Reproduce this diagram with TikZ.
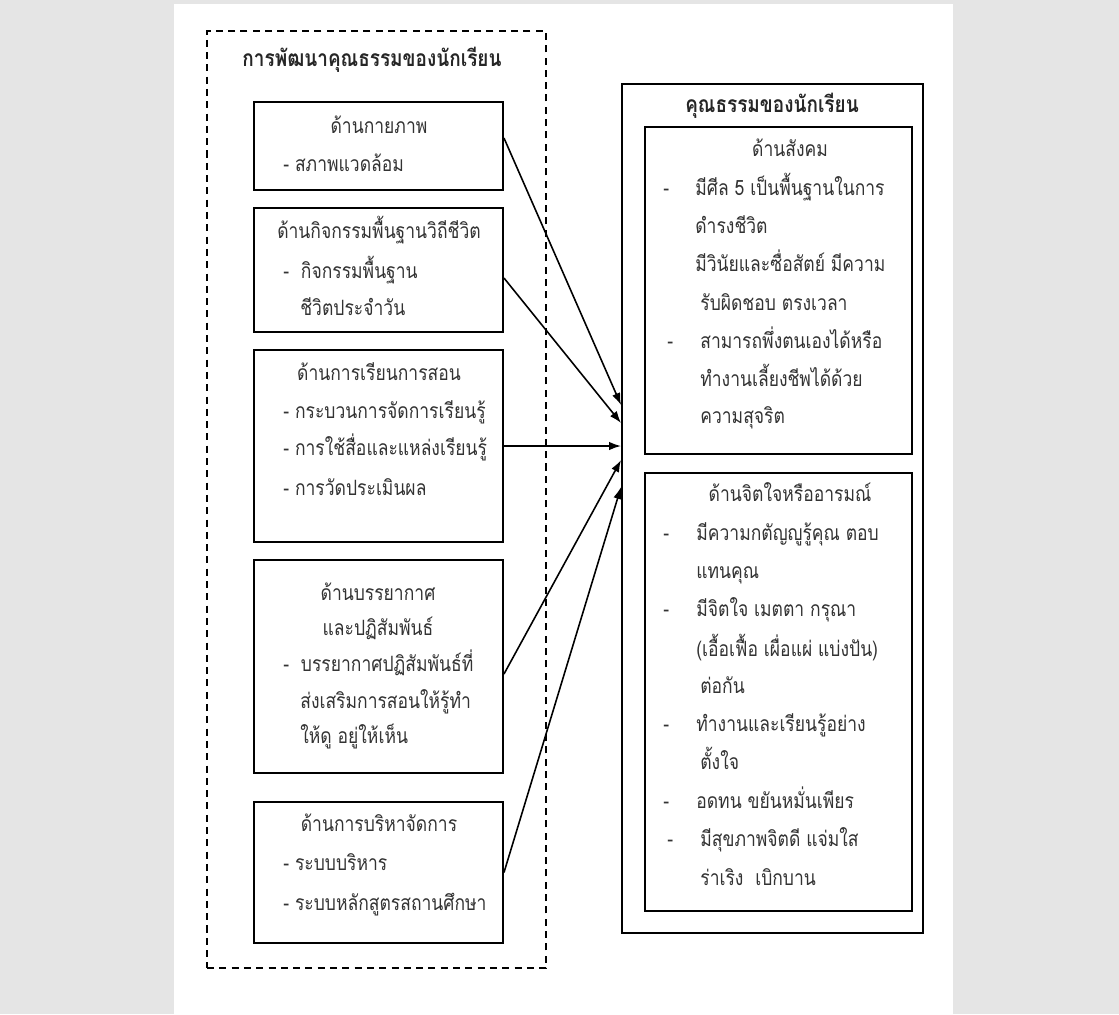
\documentclass[tikz,border=0pt]{standalone}
\usepackage{fontspec}
\newfontfamily\thaifont[Script=Thai,FakeStretch=0.83]{Loma}
\usetikzlibrary{arrows.meta,fit,calc}

\tikzset{
  box/.style={draw, line width=1.1pt, inner sep=0pt},
  frame/.style={draw, line width=1.1pt, dash pattern=on 4pt off 3pt, inner sep=0pt},
  txt/.style={inner sep=0pt, text height=1ex, text depth=0pt, text=black!80,
    font=\thaifont\fontsize{12}{14}\selectfont},
  head/.style={txt, anchor=center},
  line/.style={txt, anchor=west},
  title/.style={txt, anchor=center, text=black!85,
    font=\thaifont\bfseries\fontsize{13}{15}\selectfont},
  link/.style={-{Latex[length=2.4mm,width=1.7mm]}, line width=0.9pt}
}

\begin{document}
\begin{tikzpicture}[x=0.2mm, y=-0.2mm]

  % page
  \fill[gray!20] (0,0) rectangle (1119,1014);
  \fill[white] (174,4) rectangle (953,1014);
  \useasboundingbox (0,0) rectangle (1119,1014);

  % left: development
  \node[frame, fit={(207,31) (546,968)}] (lframe) {};
  \node[title] (ltitle) at (372,63) {การพัฒนาคุณธรรมของนักเรียน};

  \node[box, fit={(254,102) (503,190)}] (b1) {};
  \node[head] (b1h) at (379,130) {ด้านกายภาพ};
  \node[line] (b1a) at (283,168) {- สภาพแวดล้อม};

  \node[box, fit={(254,208) (503,332)}] (b2) {};
  \node[head] (b2h) at (379,235) {ด้านกิจกรรมพื้นฐานวิถีชีวิต};
  \node[line] (b2a) at (283,275) {-~ กิจกรรมพื้นฐาน};
  \node[line] (b2b) at (300,312) {ชีวิตประจำวัน};

  \node[box, fit={(254,350) (503,542)}] (b3) {};
  \node[head] (b3h) at (379,377) {ด้านการเรียนการสอน};
  \node[line] (b3a) at (283,415) {- กระบวนการจัดการเรียนรู้};
  \node[line] (b3b) at (283,452) {- การใช้สื่อและแหล่งเรียนรู้};
  \node[line] (b3c) at (283,492) {- การวัดประเมินผล};

  \node[box, fit={(254,560) (503,773)}] (b4) {};
  \node[head] (b4h) at (378,597) {ด้านบรรยากาศ};
  \node[head] (b4i) at (378,632) {และปฏิสัมพันธ์};
  \node[line] (b4a) at (283,668) {-~ บรรยากาศปฏิสัมพันธ์ที่};
  \node[line] (b4b) at (300,705) {ส่งเสริมการสอนให้รู้ทำ};
  \node[line] (b4c) at (300,740) {ให้ดู อยู่ให้เห็น};

  \node[box, fit={(254,802) (503,943)}] (b5) {};
  \node[head] (b5h) at (379,828) {ด้านการบริหาจัดการ};
  \node[line] (b5a) at (283,867) {- ระบบบริหาร};
  \node[line] (b5b) at (283,907) {- ระบบหลักสูตรสถานศึกษา};

  % right: outcomes
  \node[box, fit={(622,84) (923,933)}] (rframe) {};
  \node[title] (rtitle) at (772,109) {คุณธรรมของนักเรียน};

  \node[box, fit={(645,127) (912,454)}] (r1) {};
  \node[head] (r1h) at (790,153) {ด้านสังคม};
  \node[line] (r1d1) at (663,192) {-};
  \node[line] (r1a) at (695,192) {มีศีล 5 เป็นพื้นฐานในการ};
  \node[line] (r1b) at (695,230) {ดำรงชีวิต};
  \node[line] (r1c) at (695,268) {มีวินัยและซื่อสัตย์ มีความ};
  \node[line] (r1d) at (700,307) {รับผิดชอบ ตรงเวลา};
  \node[line] (r1d2) at (667,345) {-};
  \node[line] (r1e) at (700,345) {สามารถพึ่งตนเองได้หรือ};
  \node[line] (r1f) at (700,383) {ทำงานเลี้ยงชีพได้ด้วย};
  \node[line] (r1g) at (700,420) {ความสุจริต};

  \node[box, fit={(645,473) (912,911)}] (r2) {};
  \node[head] (r2h) at (790,498) {ด้านจิตใจหรืออารมณ์};
  \node[line] (r2d1) at (663,537) {-};
  \node[line] (r2a) at (696,537) {มีความกตัญญูรู้คุณ ตอบ};
  \node[line] (r2b) at (696,575) {แทนคุณ};
  \node[line] (r2d2) at (663,613) {-};
  \node[line] (r2c) at (696,613) {มีจิตใจ เมตตา กรุณา};
  \node[line] (r2d) at (696,653) {(เอื้อเฟื้อ เผื่อแผ่ แบ่งปัน)};
  \node[line] (r2e) at (700,690) {ต่อกัน};
  \node[line] (r2d3) at (663,728) {-};
  \node[line] (r2f) at (696,728) {ทำงานและเรียนรู้อย่าง};
  \node[line] (r2g) at (700,766) {ตั้งใจ};
  \node[line] (r2d4) at (663,805) {-};
  \node[line] (r2h2) at (696,805) {อดทน ขยันหมั่นเพียร};
  \node[line] (r2d5) at (667,843) {-};
  \node[line] (r2i) at (700,843) {มีสุขภาพจิตดี แจ่มใส};
  \node[line] (r2j) at (700,882) {ร่าเริง~ เบิกบาน};

  % arrows
  \draw[link] ($(b1.east)+(0,-8)$) -- ($(rframe.west)+(0,-103.5)$);
  \draw[link] ($(b2.east)+(0,8)$) -- ($(rframe.west)+(0,-85.5)$);
  \draw[link] (b3.east) -- (b3.east -| rframe.west);
  \draw[link] ($(b4.east)+(0,7.5)$) -- ($(rframe.west)+(0,-48.5)$);
  \draw[link] (b5.east) -- ($(rframe.west)+(0,-21.5)$);

\end{tikzpicture}
\end{document}
